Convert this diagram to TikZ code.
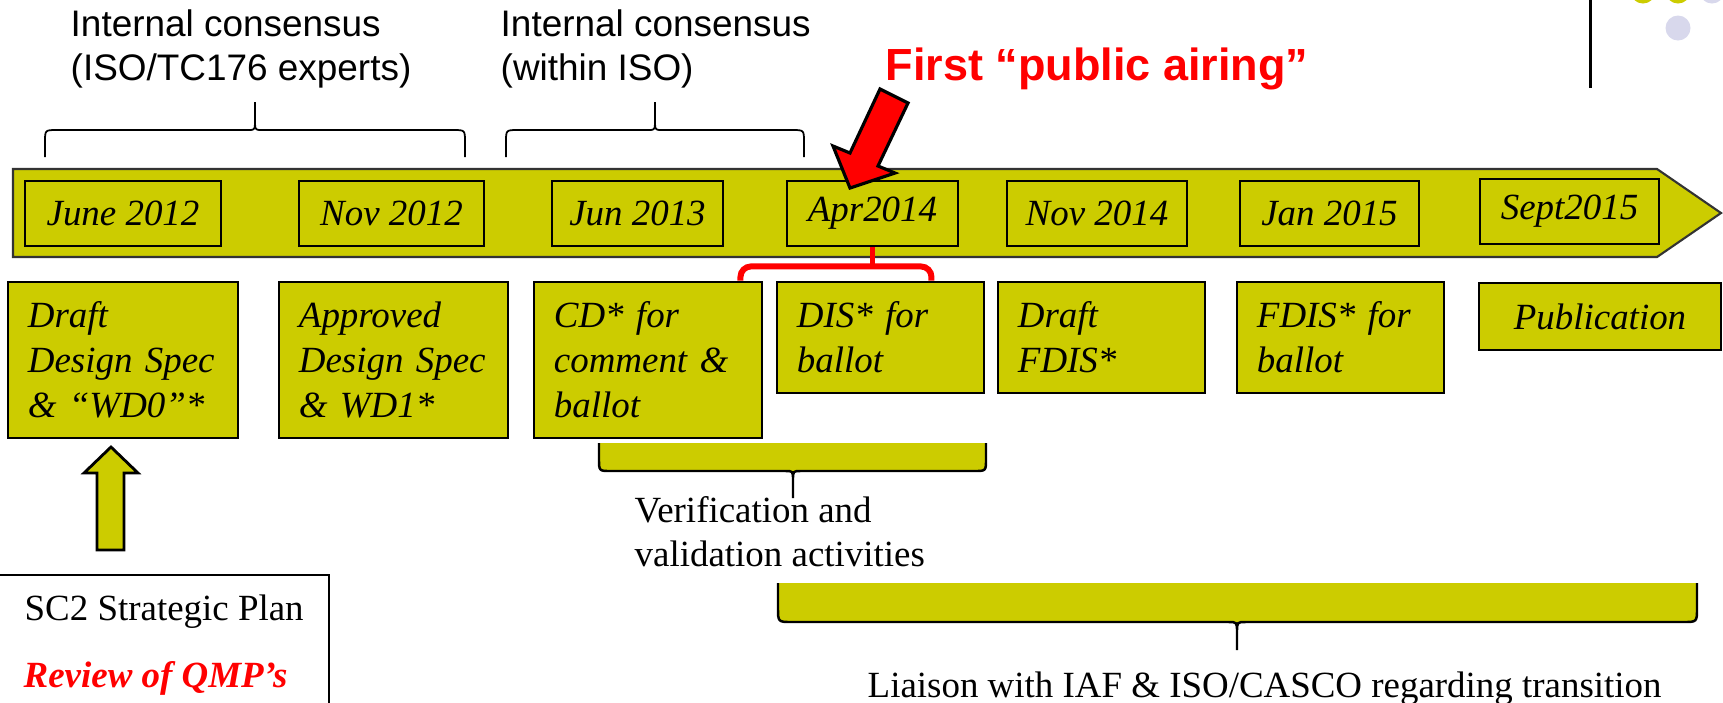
\documentclass[tikz,border=0pt]{standalone}
\usepackage{fontspec}
\setmainfont{Liberation Serif}
\setsansfont{Liberation Sans}
\usetikzlibrary{calc}
\definecolor{tlolive}{RGB}{204,204,0}
\definecolor{tllavender}{RGB}{216,216,236}

\begin{document}
\begin{tikzpicture}[x=0.01cm,y=-0.01cm]
\useasboundingbox (0,0) rectangle (1723,702);
\clip (0,0) rectangle (1723,702);

\tikzset{
    datebox/.style={draw,line width=0.8pt,fill=tlolive,inner sep=0pt,minimum height=0.65cm,
        font=\fontsize{10.5}{12.8}\selectfont\itshape},
    stagebox/.style={draw,line width=0.8pt,fill=tlolive,inner xsep=0.2cm,inner ysep=0pt,
        align=left,text width=#1,font=\fontsize{10.5}{12.8}\selectfont\itshape},
    toplabel/.style={font=\sffamily\fontsize{10.5}{12.5}\selectfont,align=left,inner sep=0pt},
    notelabel/.style={font=\fontsize{10.5}{12.5}\selectfont,align=left,inner sep=0pt},
    topbrace/.style={line width=0.5pt},
    fillbrace/.style={fill=tlolive,line width=0.7pt}
}

% corner decoration
\draw[line width=0.85pt] (1590,0) -- (1590,88);
\fill[tlolive] (1643,-9) circle (0.125cm);
\fill[tlolive] (1678,-9) circle (0.125cm);
\fill[tllavender] (1712,-9) circle (0.125cm);
\fill[tllavender] (1678,28) circle (0.125cm);

% labels above
\node[toplabel,anchor=north west] (tcexp) at (70,9) {Internal consensus\\(ISO/TC176 experts)};
\node[toplabel,anchor=north west] (iniso) at (500,9) {Internal consensus\\(within ISO)};
\node[font=\sffamily\bfseries\fontsize{12.8}{15}\selectfont,text=red,anchor=base west,inner sep=0pt] (airing) at (885,80) {First “public airing”};

\draw[topbrace] (45,157) -- (45,142) .. controls (45,130) .. (57,130) -- (249,130) .. controls (255,130) .. (255,118) -- (255,102)
    -- (255,118) .. controls (255,130) .. (261,130) -- (453,130) .. controls (465,130) .. (465,142) -- (465,157);
\draw[topbrace] (506,157) -- (506,142) .. controls (506,130) .. (518,130) -- (649,130) .. controls (655,130) .. (655,118) -- (655,102)
    -- (655,118) .. controls (655,130) .. (661,130) -- (792,130) .. controls (804,130) .. (804,142) -- (804,157);

% timeline
\draw[fill=tlolive,draw=black!80,line width=0.6pt] (13,169) -- (1657,169) -- (1721,213) -- (1657,257) -- (13,257) -- cycle;

\node[datebox,minimum width=1.96cm] (jun12) at (123,213.5) {June 2012};
\node[datebox,minimum width=1.85cm] (nov12) at (391.5,213.5) {Nov 2012};
\node[datebox,minimum width=1.71cm] (jun13) at (637.5,213.5) {Jun 2013};
\node[datebox,minimum width=1.71cm] (apr) at (872.5,213.5) {Apr2014};
\node[datebox,minimum width=1.80cm] (nov14) at (1097,213.5) {Nov 2014};
\node[datebox,minimum width=1.79cm] (jan15) at (1329.5,213.5) {Jan 2015};
\node[datebox,minimum width=1.79cm] (sep15) at (1569.5,211.5) {Sept2015};

\draw[fill=red,line width=0.9pt] (880,89) -- (908,103) -- (878,166) -- (895,173) -- (850,188) -- (833,146) -- (850,153) -- cycle;

% stages
\node[stagebox=1.9cm,minimum height=1.56cm] (draft) at (123,360) {Draft\\Design Spec\\\& “WD0”*};
\node[stagebox=1.89cm,minimum height=1.56cm] (approved) at (393.5,360) {Approved\\Design Spec\\\& WD1*};
\node[stagebox=1.88cm,minimum height=1.56cm] (cd) at (648,360) {CD* for\\comment \&\\ballot};
\node[stagebox=1.67cm,minimum height=1.11cm] (dis) at (880.5,337.5) {DIS* for\\ballot};
\node[stagebox=1.67cm,minimum height=1.11cm] (dfdis) at (1101.5,337.5) {Draft\\FDIS*};
\node[stagebox=1.67cm,minimum height=1.11cm] (fdis) at (1340.5,337.5) {FDIS* for\\ballot};
\node[datebox,minimum width=2.42cm,minimum height=0.67cm] (pub) at (1600,316.5) {Publication};

\draw[red,line width=1.7pt] (apr.south) -- ++(0,19) coordinate (rbmid);
\draw[red,line width=1.7pt,rounded corners=3pt] ($(cd.north east)+(-23,0)$) |- (rbmid) -| ($(dis.north east)+(-54,0)$);

% below
\draw[fillbrace] (599,443) -- (599,459) .. controls (599,471) .. (611,471) -- (785,471) .. controls (793,471) .. (793,480) -- (793,498)
    -- (793,480) .. controls (793,471) .. (801,471) -- (974,471) .. controls (986,471) .. (986,459) -- (986,443);
\node[notelabel,anchor=north west] (verif) at (634,496) {Verification and\\validation activities};

\draw[fillbrace] (778,583) -- (778,608) .. controls (778,622) .. (792,622) -- (1228,622) .. controls (1237,622) .. (1237,632) -- (1237,650)
    -- (1237,632) .. controls (1237,622) .. (1246,622) -- (1683,622) .. controls (1697,622) .. (1697,608) -- (1697,583);
\node[notelabel,anchor=base west] (liaison) at (867,697) {Liaison with IAF \& ISO/CASCO regarding transition};

\draw[fill=tlolive,line width=0.8pt] (111,447) -- (138,473) -- (124,473) -- (124,550) -- (97,550) -- (97,473) -- (84,473) -- cycle;

\draw[line width=0.6pt] (-1,575) rectangle (329,720);
\node[notelabel,anchor=base west] (plan) at (24,620) {SC2 Strategic Plan};
\node[notelabel,anchor=base west,text=red,font=\fontsize{10.5}{12.5}\selectfont\bfseries\itshape] (qmp) at (23,687) {Review of QMP’s};

\end{tikzpicture}
\end{document}
